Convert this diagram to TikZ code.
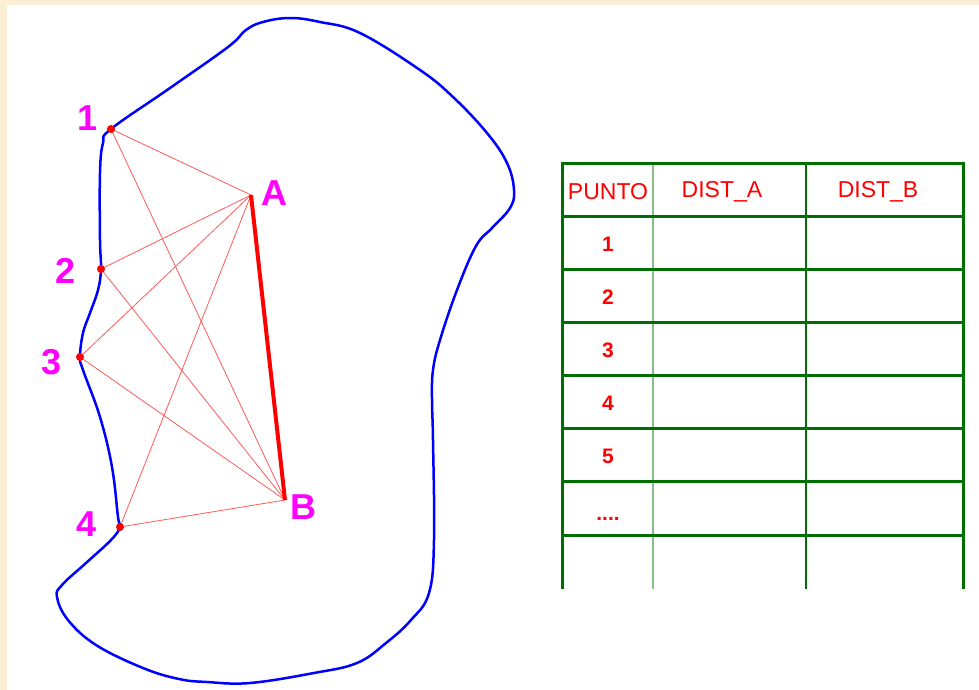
\documentclass[tikz,border=0pt]{standalone}
\usepackage{fontspec}
\setmainfont{Liberation Sans}
\definecolor{beige}{RGB}{250,238,212}
\definecolor{outline}{RGB}{0,0,255}
\definecolor{thinred}{RGB}{255,90,90}
\definecolor{dgreen}{RGB}{0,110,0}
\definecolor{lgreen}{RGB}{135,190,135}
\definecolor{mag}{RGB}{255,0,255}
\tikzset{
  lbl/.style={text=mag,font=\fontsize{36}{40}\selectfont\bfseries,inner sep=0pt},
  hdr/.style={text=red,font=\fontsize{23}{27}\selectfont,inner sep=0pt},
  num/.style={text=red,font=\fontsize{21}{24}\selectfont\bfseries,inner sep=0pt},
  ray/.style={draw=thinred,line width=0.8pt},
  tline/.style={draw=dgreen,line width=3pt},
}
\begin{document}
\begin{tikzpicture}[x=1pt,y=-1pt]
\useasboundingbox (0,0) rectangle (979,690);
\fill[beige] (0,0) rectangle (979,690);
\fill[white] (7,5) rectangle (979,690);
% outline
\draw[outline,line width=2.5pt] plot[smooth cycle,tension=0.65] coordinates {
(111,129) (170,88) (228,47) (246,30) (263,22) (290,18) (320,22) (360,33)
(420,70) (453,97) (487,133) (507,163) (514,190) (510,208) (492,228) (476,246)
(457,290) (440,340) (433,370) (432,400) (433,440) (434,540) (429,593) (411,620)
(386,643) (357,663) (314,673) (250,683) (207,682) (179,679) (143,668) (96,645)
(68,620) (57,597) (62,585) (86,563) (111,540) (120,527) (118,517) (112,467)
(100,417) (83,370) (80,357) (83,333) (90,313) (98,290) (101,269) (100,240)
(100,173) (103,143)};
% points
\coordinate (p1) at (111,129);
\coordinate (p2) at (101,269);
\coordinate (p3) at (80,357);
\coordinate (p4) at (120,527);
\coordinate (A) at (251,195);
\coordinate (B) at (285,500);
\foreach \p in {p1,p2,p3,p4}{
  \draw[ray] (\p) -- (A);
  \draw[ray] (\p) -- (B);
}
\draw[red,line width=4pt] (A) -- (B);
\foreach \p in {p1,p2,p3,p4}{\fill[red] (\p) circle (4pt);}
\node[lbl] (l1) at (88,118) {1};
\node[lbl] (l2) at (66,271) {2};
\node[lbl] (l3) at (52,362) {3};
\node[lbl] (l4) at (87,524) {4};
\node[lbl] (lA) at (274,193) {A};
\node[lbl] (lB) at (303,507) {B};
% table
\draw[lgreen,line width=2pt] (653,163) -- (653,589);
\draw[dgreen,line width=1.5pt] (806,163) -- (806,589);
\foreach \y in {163,216,269,322,375,428,481,535}{
  \draw[tline] (562,\y) -- (963,\y);
}
\draw[tline] (562,161.5) -- (562,589);
\draw[tline] (963,161.5) -- (963,589);
\node[hdr] (h1) at (608,192) {PUNTO};
\node[hdr] (h2) at (722,192) {DIST\_A};
\node[hdr] (h3) at (878,192) {DIST\_B};
\node[num] (n1) at (608,244) {1};
\node[num] (n2) at (608,297) {2};
\node[num] (n3) at (608,350) {3};
\node[num] (n4) at (608,403) {4};
\node[num] (n5) at (608,456) {5};
\node[num,anchor=base] (n6) at (608,520) {....};
\end{tikzpicture}
\end{document}
